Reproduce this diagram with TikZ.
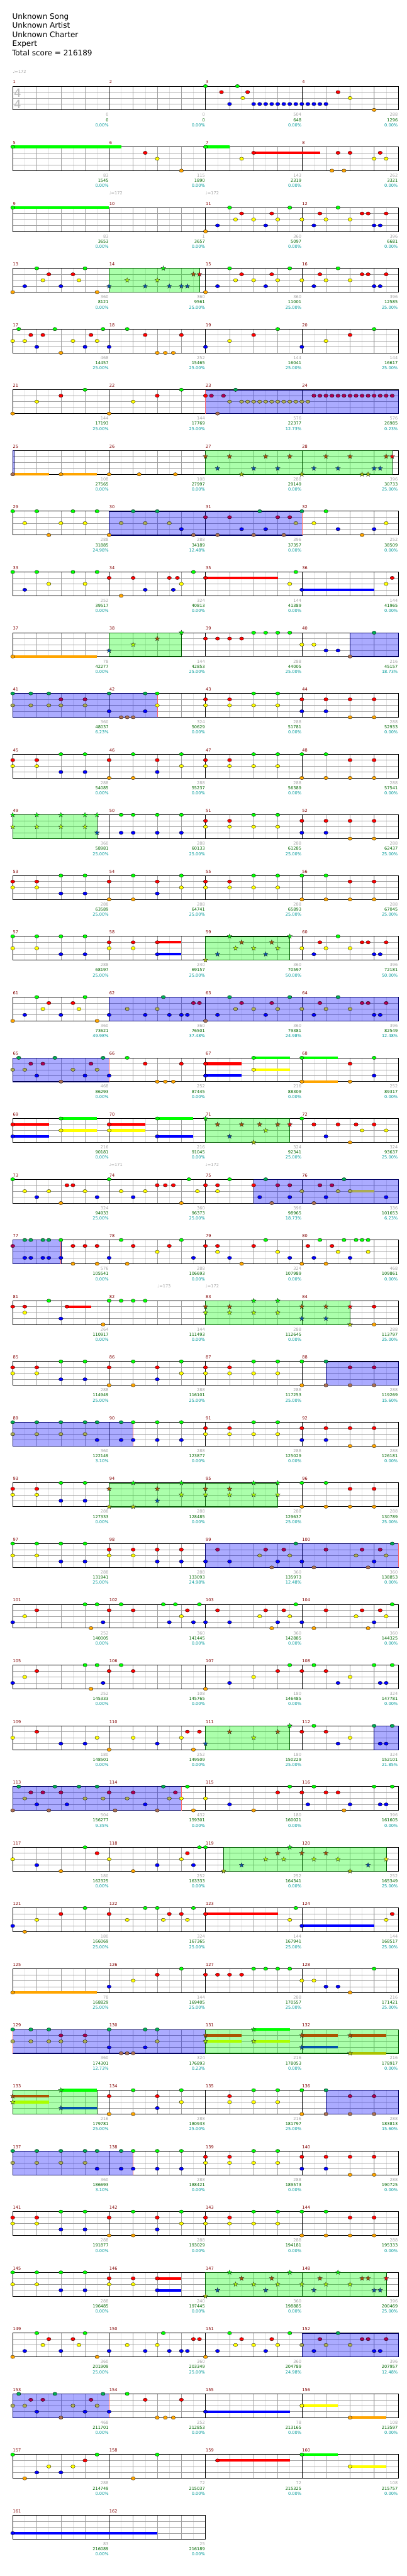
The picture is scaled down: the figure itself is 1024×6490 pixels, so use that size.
\documentclass[tikz,border=0pt]{standalone}
\usepackage{fontspec}
\setmainfont{DejaVu Sans}

% lane colours: 0 green, 1 red, 2 yellow, 3 blue, 4 orange
\definecolor{c0}{RGB}{0,255,0}
\definecolor{c1}{RGB}{255,0,0}
\definecolor{c2}{RGB}{255,255,0}
\definecolor{c3}{RGB}{0,0,255}
\definecolor{c4}{RGB}{255,165,0}
% gems under overdrive (tinted blue) and star gems (tinted green)
\colorlet{od0}{c0!67!c3}
\colorlet{od1}{c1!67!c3}
\colorlet{od2}{c2!67!c3}
\colorlet{od3}{c3}
\colorlet{od4}{c4!67!c3}
\colorlet{sp0}{c0}
\colorlet{sp1}{c1!67!c0}
\colorlet{sp2}{c2!67!c0}
\colorlet{sp3}{c3!67!c0}
\colorlet{sp4}{c4!67!c0}
\definecolor{gridmid}{RGB}{160,160,160}
\definecolor{gridlight}{RGB}{226,226,226}
\definecolor{barred}{RGB}{128,0,0}
\definecolor{ptsgray}{RGB}{165,165,165}
\definecolor{totgreen}{RGB}{0,102,0}
\definecolor{pctteal}{RGB}{0,153,153}

\newcommand\chartfont{\fontsize{10.5}{12}\selectfont}

\tikzset{
  chartrow/.style={shift={(32pt,{-(217+153*#1)*1pt})}, x=30.344pt, y=-15pt},
  eighthline/.style={draw=gridlight, line width=0.7pt},
  beatline/.style={draw=gridmid, line width=0.9pt},
  laneline/.style={draw=gridmid, line width=1pt},
  barline/.style={draw=black, line width=0.8pt},
  frameline/.style={draw=black, line width=1.4pt},
  gemline/.style={draw=black, line width=0.5pt},
  odfill/.style={fill=blue, fill opacity=0.33, draw=blue!40!black, line width=0.8pt},
  spfill/.style={fill=green, fill opacity=0.33, draw=green!35!black, line width=0.8pt},
  odmarkline/.style={draw=red!60, line width=1pt},
  measnum/.style={anchor=base west, inner sep=0pt, xshift=0.6pt, text=barred, font=\chartfont},
  ptsnum/.style={anchor=base east, inner sep=0pt, xshift=-1pt, text=ptsgray, font=\chartfont},
  totnum/.style={anchor=base east, inner sep=0pt, xshift=-1pt, text=totgreen, font=\chartfont},
  pctnum/.style={anchor=base east, inner sep=0pt, xshift=-1pt, text=pctteal, font=\chartfont},
  tempo/.style={anchor=west, inner sep=0pt, text=ptsgray, font=\chartfont},
  timesig/.style={inner sep=0pt, text=gray!55, font=\fontsize{29}{29}\selectfont},
  titleline/.style={anchor=base west, inner sep=0pt, font=\fontsize{19}{23}\selectfont},
  gemstar/.pic={\filldraw[fill=#1, draw=black!85, line width=0.5pt]
    (90:6.3pt) -- (126:2.6pt) -- (162:6.3pt) -- (198:2.6pt) -- (234:6.3pt) -- (270:2.6pt)
    -- (306:6.3pt) -- (342:2.6pt) -- (18:6.3pt) -- (54:2.6pt) -- cycle;}
}

% staff of one row: grid, frame and measure numbers
\newcommand\staff[2]{% #1 first measure, #2 measures in the row
  \pgfmathtruncatemacro\ncol{8*#2}
  \pgfmathtruncatemacro\neighth{8*#2-1}
  \pgfmathtruncatemacro\nbeat{4*#2-1}
  \pgfmathtruncatemacro\nbar{#2-1}
  \foreach \i in {1,...,\neighth} \draw[eighthline] (\i,0) -- (\i,4);
  \foreach \i in {1,...,\nbeat} \draw[beatline] (2*\i,0) -- (2*\i,4);
  \foreach \lane in {1,2,3} \draw[laneline] (0,\lane) -- (\ncol,\lane);
  \foreach \i in {1,...,\nbar} \draw[barline] (8*\i,0) -- (8*\i,4);
  \draw[frameline] (0,0) rectangle (\ncol,4);
  \foreach \m in {1,...,#2} {
    \pgfmathtruncatemacro\mnum{#1+\m-1}
    \node[measnum] (bar\mnum) at (8*\m-8,-0.43) {\mnum};
  }
}
\newcommand\odzone[2]{\filldraw[odfill] (#1,0) rectangle (#2,4);}
\newcommand\spzone[2]{\filldraw[spfill] (#1,0) rectangle (#2,4);}
\newcommand\odmark[1]{\draw[odmarkline] (#1,0) -- (#1,4);}
\newcommand\tail[4]{\fill[#4] (#1,#3-0.22) rectangle (#2,#3+0.22);}
\newcommand\gems[1]{\foreach \pos/\lane in {#1}
  {\filldraw[gemline, fill=c\lane] (\pos,\lane) ellipse [x radius=5.3pt, y radius=4.2pt];}}
\newcommand\odgems[1]{\foreach \pos/\lane in {#1}
  {\filldraw[gemline, fill=od\lane] (\pos,\lane) ellipse [x radius=5.3pt, y radius=4.2pt];}}
\newcommand\stars[1]{\foreach \pos/\lane in {#1} {\pic at (\pos,\lane) {gemstar=sp\lane};}}
\newcommand\pstars[1]{\foreach \pos/\lane in {#1} {\pic at (\pos,\lane) {gemstar=c\lane};}}
\newcommand\scores[1]{\foreach \ptsv/\totv/\pctv [count=\m] in {#1} {
    \node[ptsnum] (pts\m) at (8*\m,5.07) {\ptsv};
    \node[totnum] (tot\m) at (8*\m,5.93) {\totv};
    \node[pctnum] (pct\m) at (8*\m,6.8) {\pctv\%};
  }}
% riffs that come back several times
\newcommand\riffA{\gems{0/1, 2/1, 8/1, 12/1, 16/1, 18/1, 28/1, 30/1, 0/2, 2/2, 14/2, 16/2, 18/2,
  20/2, 22/2, 4/0, 6/0, 10/0, 14/0, 20/0, 22/0, 24/0, 26/0, 4/3, 6/3, 12/3, 8/4, 10/4, 24/4,
  26/4, 28/4, 30/4}}
\newcommand\riffB{\odzone{0}{10} \odmark{10}
  \odgems{0/0, 2/0, 4/0, 6/0, 7/0, 9/0, 0/2, 2/2, 4/2, 6/2, 7/3, 9/3}
  \gems{10/0, 10/3, 12/0, 14/0, 20/0, 22/0, 12/3, 14/3, 24/3, 26/3, 16/1, 18/1, 24/1, 26/1,
  28/1, 30/1, 16/2, 18/2, 20/2, 22/2, 28/4, 30/4}}

\begin{document}
\begin{tikzpicture}
\useasboundingbox (0,0) rectangle (1024pt,-6490pt);

% ===== HEADER =====
\node[titleline] (song) at (31pt,-48pt) {Unknown Song};
\node[titleline] (artist) at (31pt,-71pt) {Unknown Artist};
\node[titleline] (charter) at (31pt,-94pt) {Unknown Charter};
\node[titleline] (level) at (31pt,-117pt) {Expert};
\node[titleline] (total) at (30pt,-141pt) {Total score = 216189};

% ===== measures 1-4 =====
\begin{scope}[chartrow=0]
  \staff{1}{4}
  \node[tempo] (tempo1) at (0,-2.47) {♩=172};
  \node[timesig] (tsup) at (0.41,1.1) {4};
  \node[timesig] (tsdown) at (0.41,3.1) {4};
  \gems{16/0, 18.65/0, 17.33/1, 19.5/1, 27/1, 19.1/2, 28/2, 18/3, 20/3, 20.5/3, 21/3, 21.5/3,
    22/3, 22.5/3, 23/3, 23.5/3, 24/3, 24.5/3, 25/3, 25.5/3, 26/3, 30/4}
  \scores{0/0/0.00, 0/0/0.00, 504/648/0.00, 288/1296/0.00}
\end{scope}

% ===== measures 5-8 =====
\begin{scope}[chartrow=1]
  \staff{5}{4}
  \tail{0}{9}{0}{c0} \tail{16}{18}{0}{c0} \tail{20}{25.5}{1}{c1}
  \gems{0/0, 16/0, 11/1, 20/1, 27/1, 28/1, 30.5/1, 12/2, 19/2, 30/2, 31/2, 14/4, 26.5/4, 27.5/4}
  \scores{83/1545/0.00, 115/1890/0.00, 143/2319/0.00, 262/3321/0.00}
\end{scope}

% ===== measures 9-12 =====
\begin{scope}[chartrow=2]
  \staff{9}{4}
  \node[tempo] (tempo2) at (8,-2.47) {♩=172};
  \node[tempo] (tempo3) at (16,-2.47) {♩=172};
  \tail{0}{8}{0}{c0}
  \gems{0/0, 18/0, 23/0, 27/0, 19/1, 21.5/1, 25.5/1, 29/1, 29.5/1, 31/1, 18.5/2, 20/2, 22/2,
    24/2, 26/2, 28/2, 17/3, 21/3, 25/3, 30/3, 30.5/3, 16/4}
  \scores{83/3653/0.00, 1/3657/0.00, 360/5097/0.00, 396/6681/0.00}
\end{scope}

% ===== measures 13-16 =====
\begin{scope}[chartrow=3]
  \staff{13}{4}
  \spzone{8}{15.5}
  \gems{2/0, 6/0, 3/1, 5/1, 2.5/2, 5.5/2, 1/3, 4/3, 0/4, 7/4, 16/4, 17/3, 18/0, 18.5/2, 19/1,
    20/2, 21/3, 21.5/1, 22/2, 23/0, 24/2, 25/3, 25.5/1, 26/2, 27/0, 28/2, 29/1, 29.5/1, 30/3,
    30.5/3, 31/1}
  \stars{8/3, 9.5/2, 11/3, 12/2, 12.5/0, 13/3, 14/3, 14.5/3, 15/1}
  \pstars{15.5/1}
  \scores{360/8121/0.00, 360/9561/25.00, 360/11001/25.00, 396/12585/25.00}
\end{scope}

% ===== measures 17-20 =====
\begin{scope}[chartrow=4]
  \staff{17}{4}
  \gems{0.5/0, 3.5/0, 7.5/0, 9.5/0, 22/0, 30/0, 1.5/1, 2.5/1, 6.5/1, 11/1, 14/1, 20/1, 28/1,
    0/2, 1/2, 5/2, 7/2, 18/2, 26/2, 2/3, 6/3, 8/3, 16/3, 24/3, 4/4, 12/4, 12.67/4, 13.33/4}
  \scores{468/14457/25.00, 252/15465/25.00, 144/16041/25.00, 144/16617/25.00}
\end{scope}

% ===== measures 21-24 =====
\begin{scope}[chartrow=5]
  \staff{21}{4}
  \odzone{16}{32} \odmark{16}
  \gems{0/4, 8/4, 2/2, 10/2, 4/1, 12/1, 6/0, 14/0, 16/1}
  \odgems{16.5/1, 17.5/1, 18.5/0, 17/4, 18/2, 19/2, 19.5/2, 20/2, 20.5/2, 21/2, 21.5/2, 22/2,
    22.5/2, 23/2, 23.5/2, 24/2, 24.5/2, 25/1, 25.5/1, 26/1, 26.5/1, 27/1, 27.5/1, 28/1, 28.5/1,
    29/1, 29.5/1, 30/1, 30.5/1, 31/1, 31.5/1}
  \scores{144/17193/25.00, 144/17769/25.00, 576/22377/12.73, 576/26985/0.23}
\end{scope}

% ===== measures 25-28 =====
\begin{scope}[chartrow=6]
  \staff{25}{4}
  \odzone{0}{0.12}
  \spzone{16}{31.5}
  \tail{0}{3}{4}{c4} \tail{4}{7}{4}{c4}
  \odgems{0/4}
  \gems{4/4, 8/4, 10.5/4, 13.5/4}
  \stars{16/1, 18/1, 21/1, 23/1, 26/1, 28/1, 31/1, 17/3, 20/3, 22/3, 25/3, 27/3, 30/3, 30.5/3,
    19/4, 24/4, 29/4, 29.5/4}
  \pstars{31.5/1}
  \scores{108/27565/0.00, 108/27997/0.00, 288/29149/0.00, 396/30733/25.00}
\end{scope}

% ===== measures 29-32 =====
\begin{scope}[chartrow=7]
  \staff{29}{4}
  \odzone{8}{24} \odmark{24}
  \gems{0/0, 2/0, 5/0, 7/0, 1/2, 4/2, 6/2, 3/4, 8/4, 26/0, 25/2, 31/2, 27/3, 30/3, 29/4}
  \odgems{10/0, 12/0, 9/2, 11/2, 13/2, 14/3, 15/4, 17/4, 20/4, 22.5/4, 16/1, 18/1, 22/1, 23/1,
    19/3, 21/3, 20.5/0, 23.5/2, 24/0}
  \scores{288/31885/24.98, 288/34189/12.48, 396/37357/0.00, 252/38509/0.00}
\end{scope}

% ===== measures 33-36 =====
\begin{scope}[chartrow=8]
  \staff{33}{4}
  \tail{16}{22}{1}{c1} \tail{24}{30}{3}{c3}
  \gems{0/0, 2/0, 5/0, 7/0, 15/0, 23.5/0, 8/1, 10/1, 13/1, 13.67/1, 16/1, 31.5/1, 3/2, 6/2,
    14/2, 23/2, 31/2, 1/3, 11/3, 13.33/3, 24/3, 9/4}
  \scores{252/39517/0.00, 324/40813/0.00, 144/41389/0.00, 144/41965/0.00}
\end{scope}

% ===== measures 37-40 =====
\begin{scope}[chartrow=9]
  \staff{37}{4}
  \spzone{8}{14} \odzone{28}{32}
  \tail{0}{7}{4}{c4}
  \gems{0/4, 16/1, 17/1, 18/1, 19/1, 20/0, 21/0, 22/0, 23/0, 24/2, 25/2, 26/3, 27/3}
  \stars{8/3, 10/2, 12/1, 14/0}
  \odgems{28/4, 30/0}
  \scores{78/42277/0.00, 144/42853/25.00, 288/44005/25.00, 216/45157/18.73}
\end{scope}

% ===== measures 41-44 =====
\begin{scope}[chartrow=10]
  \staff{41}{4}
  \odzone{0}{12} \odmark{12}
  \odgems{0/0, 1.5/0, 3/0, 8/0, 11/0, 4/1, 6/1, 0/2, 1.5/2, 3/2, 4/2, 6/2, 8/3, 11/3, 9/4,
    9.5/4, 10/4}
  \gems{12/0, 12/2, 16/1, 18/1, 24/1, 26/1, 28/1, 30/1, 16/2, 18/2, 20/2, 22/2, 20/0, 22/0,
    24/3, 26/3, 28/4, 30/4}
  \scores{360/48037/6.23, 324/50629/0.00, 288/51781/0.00, 288/52933/0.00}
\end{scope}

% ===== measures 45-48 =====
\begin{scope}[chartrow=11]
  \staff{45}{4}
  \riffA
  \scores{288/54085/0.00, 288/55237/0.00, 288/56389/0.00, 288/57541/0.00}
\end{scope}

% ===== measures 49-52 =====
\begin{scope}[chartrow=12]
  \staff{49}{4}
  \spzone{0}{7}
  \stars{0/0, 2/0, 4/0, 6/0, 7/0, 0/2, 2/2, 4/2, 6/2, 7/3}
  \gems{9/0, 10/0, 12/0, 14/0, 20/0, 22/0, 9/3, 10/3, 12/3, 14/3, 24/3, 26/3, 16/1, 18/1,
    24/1, 26/1, 28/1, 30/1, 16/2, 18/2, 20/2, 22/2, 28/4, 30/4}
  \scores{360/58981/25.00, 288/60133/25.00, 288/61285/25.00, 288/62437/25.00}
\end{scope}

% ===== measures 53-56 =====
\begin{scope}[chartrow=13]
  \staff{53}{4}
  \riffA
  \scores{288/63589/25.00, 288/64741/25.00, 288/65893/25.00, 288/67045/25.00}
\end{scope}

% ===== measures 57-60 =====
\begin{scope}[chartrow=14]
  \staff{57}{4}
  \spzone{16}{23}
  \tail{12}{14}{1}{c1} \tail{12}{14}{3}{c3}
  \gems{0/0, 2/0, 4/0, 6/0, 0/2, 2/2, 8/2, 10/2, 4/3, 6/3, 12/3, 8/1, 10/1, 12/1, 24/2, 25/3,
    25.5/1, 26/2, 27/0, 28/2, 29/1, 29.5/1, 30/3, 30.5/3, 31/1}
  \stars{16/4, 17/3, 18/0, 18.5/2, 19/1, 20/2, 21/3, 21.5/1, 22/2, 23/0}
  \scores{288/68197/25.00, 240/69157/25.00, 360/70597/50.00, 396/72181/50.00}
\end{scope}

% ===== measures 61-64 =====
\begin{scope}[chartrow=15]
  \staff{61}{4}
  \odzone{8}{32}
  \gems{0/4, 7/4, 1/3, 4/3, 2/0, 6/0, 2.5/2, 5.5/2, 3/1, 5/1}
  \odgems{8/3, 11/3, 13/3, 14/3, 14.5/3, 9.5/2, 12/2, 12.5/0, 15/1, 15.5/1, 16/4, 17/3, 18/0,
    18.5/2, 19/1, 20/2, 21/3, 21.5/1, 22/2, 23/0, 24/2, 25/3, 25.5/1, 26/2, 27/0, 28/2, 29/1,
    29.5/1, 30/3, 30.5/3, 31/1}
  \scores{360/73621/49.98, 360/76501/37.48, 360/79381/24.98, 396/82549/12.48}
\end{scope}

% ===== measures 65-68 =====
\begin{scope}[chartrow=16]
  \staff{65}{4}
  \odzone{0}{8} \odmark{8}
  \odgems{0.5/0, 3.5/0, 7.5/0, 1.5/1, 2.5/1, 6.5/1, 0/2, 1/2, 5/2, 7/2, 2/3, 6/3, 4/4}
  \tail{16}{19}{1}{c1} \tail{16}{19}{3}{c3} \tail{20}{23}{0}{c0} \tail{20}{23}{2}{c2}
  \tail{24}{27}{0}{c0} \tail{24}{27}{4}{c4}
  \gems{8/3, 9.5/0, 11/1, 14/1, 12/4, 12.67/4, 13.33/4, 16/1, 16/3, 20/0, 20/2, 24/0, 24/4,
    28/1, 28/4, 30/0, 30/3}
  \scores{468/86293/0.00, 252/87445/0.00, 216/88309/0.00, 252/89317/0.00}
\end{scope}

% ===== measures 69-72 =====
\begin{scope}[chartrow=17]
  \staff{69}{4}
  \spzone{16}{23}
  \tail{0}{3}{1}{c1} \tail{0}{3}{3}{c3} \tail{4}{7}{0}{c0} \tail{4}{7}{2}{c2}
  \tail{8}{11}{1}{c1} \tail{8}{11}{2}{c2} \tail{12}{15}{0}{c0} \tail{12}{15}{3}{c3}
  \gems{0/1, 0/3, 4/0, 4/2, 8/1, 8/2, 12/0, 12/3, 24/0, 25/1, 27/1, 28.5/1, 30/1, 26/3, 28/4,
    29/2, 31/2}
  \stars{16/0, 17/1, 19/1, 20.5/1, 22/1, 18/3, 20/4, 21/2}
  \pstars{23/1}
  \scores{216/90181/0.00, 216/91045/0.00, 324/92341/25.00, 324/93637/25.00}
\end{scope}

% ===== measures 73-76 =====
\begin{scope}[chartrow=18]
  \staff{73}{4}
  \node[tempo] (tempo4) at (8,-2.47) {♩=171};
  \node[tempo] (tempo5) at (16,-2.47) {♩=172};
  \odzone{20}{32}
  \tail{28}{30}{2}{od2}
  \gems{0/0, 8/0, 14.63/0, 18/0, 1/2, 3/2, 6/2, 9/2, 11/2, 15.33/2, 17/2, 2/3, 7/3, 10/3,
    4.5/1, 5/1, 12/1, 12.67/1, 13.33/1, 16/1, 17/1, 4/4, 14/4, 20/1}
  \odgems{20.5/3, 23/3, 26/3, 31/3, 21/0, 27.5/0, 22/1, 23/1, 25.5/1, 26.5/1, 21.5/4, 25/4,
    24/2, 27/2, 28/2}
  \scores{324/94933/25.00, 360/96373/25.00, 396/98965/18.73, 336/101653/6.23}
\end{scope}

% ===== measures 77-80 =====
\begin{scope}[chartrow=19]
  \staff{77}{4}
  \odzone{0}{4} \odmark{4}
  \odgems{0/1, 1/0, 1.5/0, 2.5/0, 3/0, 1/3, 1.5/3, 2.5/3, 3/3, 4/3}
  \gems{4/0, 5/1, 6/1, 7/1, 10/1, 13/1, 16/1, 17/1, 20/1, 24.5/1, 26.5/1, 5/4, 7/4, 9.5/4,
    19/4, 24/4, 26/4, 9/0, 14/0, 21/0, 25.5/0, 27.5/0, 28.5/0, 29/0, 29.5/0, 12/2, 17/2, 22/2,
    27/2, 29.5/2, 8/3, 15/3, 18/3, 23/3, 25/3, 28/3}
  \scores{576/105541/0.00, 288/106693/0.00, 324/107989/0.00, 468/109861/0.00}
\end{scope}

% ===== measures 81-84 =====
\begin{scope}[chartrow=20]
  \staff{81}{4}
  \node[tempo] (tempo6) at (12,-2.47) {♩=173};
  \node[tempo] (tempo7) at (16,-2.47) {♩=172};
  \spzone{16}{28}
  \tail{4.5}{6.5}{1}{c1}
  \gems{0/1, 1/1, 4.5/1, 1/2, 3/0, 4/3, 7.5/4, 8/0, 9/0, 10/0, 11/0, 30/1, 30/4}
  \stars{16/1, 18/1, 24/1, 26/1, 16/2, 18/2, 20/2, 22/2, 20/0, 22/0, 24/3, 26/3, 28/4}
  \pstars{28/1}
  \scores{264/110917/0.00, 144/111493/0.00, 288/112645/0.00, 288/113797/25.00}
\end{scope}

% ===== measures 85-88 =====
\begin{scope}[chartrow=21]
  \staff{85}{4}
  \odzone{26}{32}
  \gems{0/1, 2/1, 8/1, 12/1, 16/1, 18/1, 0/2, 2/2, 14/2, 16/2, 18/2, 20/2, 22/2, 4/0, 6/0,
    10/0, 14/0, 20/0, 22/0, 24/0, 4/3, 6/3, 12/3, 8/4, 10/4, 24/4}
  \odgems{26/0, 26/4, 28/1, 30/1, 28/4, 30/4}
  \scores{288/114949/25.00, 288/116101/25.00, 288/117253/25.00, 288/119269/15.60}
\end{scope}

% ===== measures 89-92 =====
\begin{scope}[chartrow=22]
  \staff{89}{4}
  \riffB
  \scores{360/122149/3.10, 288/123877/0.00, 288/125029/0.00, 288/126181/0.00}
\end{scope}

% ===== measures 93-96 =====
\begin{scope}[chartrow=23]
  \staff{93}{4}
  \spzone{8}{22}
  \gems{0/1, 2/1, 0/2, 2/2, 4/0, 6/0, 4/3, 6/3, 24/0, 26/0, 28/1, 30/1, 24/4, 26/4, 28/4, 30/4}
  \stars{8/1, 12/1, 16/1, 18/1, 8/4, 10/4, 10/0, 14/0, 20/0, 22/0, 12/3, 14/2, 16/2, 18/2,
    20/2, 22/2}
  \scores{288/127333/0.00, 288/128485/0.00, 288/129637/25.00, 288/130789/25.00}
\end{scope}

% ===== measures 97-100 =====
\begin{scope}[chartrow=24]
  \staff{97}{4}
  \odzone{16}{32} \odmark{32}
  \gems{0/0, 2/0, 4/0, 6/0, 0/2, 2/2, 8/2, 10/2, 4/3, 6/3, 12/3, 14/3, 8/1, 10/1, 12/1, 14/1,
    16/3}
  \odgems{18/3, 22/3, 24/3, 30/3, 17/1, 21/1, 22.5/1, 26/1, 29/1, 30.5/1, 20.5/2, 23/2, 28.5/2,
    31/2, 23.5/0, 31.5/0, 21.5/4, 25/4, 29.5/4}
  \scores{288/131941/25.00, 288/133093/24.98, 360/135973/12.48, 360/138853/0.00}
\end{scope}

% ===== measures 101-104 =====
\begin{scope}[chartrow=25]
  \staff{101}{4}
  \gems{0/3, 7.5/3, 13/3, 15/3, 16/3, 18/3, 22/3, 24/3, 30/3, 1/2, 14/2, 20.5/2, 23/2, 28.5/2,
    31/2, 2/1, 8/1, 10/1, 14.5/1, 17/1, 21/1, 22.5/1, 26/1, 29/1, 30.5/1, 6/0, 7/0, 9/0,
    12.5/0, 13.5/0, 15.5/0, 23.5/0, 31.5/0, 6.5/4, 21.5/4, 25/4, 29.5/4}
  \scores{252/140005/0.00, 360/141445/0.00, 360/142885/0.00, 360/144325/0.00}
\end{scope}

% ===== measures 105-108 =====
\begin{scope}[chartrow=26]
  \staff{105}{4}
  \gems{0/3, 7.5/3, 18/3, 27/3, 30.5/3, 31/3, 1/2, 20/2, 28/2, 2/1, 8/1, 10/1, 22/1, 24/1,
    26/1, 6/0, 7/0, 9/0, 23/0, 25/0, 30/0, 31.5/0, 6.5/4, 16/4}
  \scores{252/145333/0.00, 108/145765/0.00, 180/146485/0.00, 324/147781/0.00}
\end{scope}

% ===== measures 109-112 =====
\begin{scope}[chartrow=27]
  \staff{109}{4}
  \spzone{16}{23} \odzone{30}{32}
  \gems{0/2, 7/2, 10/2, 14/2, 28/2, 2/1, 14.5/1, 15.5/1, 24/1, 26/1, 4/3, 6/3, 12/3, 27/3,
    8/4, 15/4, 25/0}
  \stars{16/3, 18/1, 22/1, 20/2, 23/0}
  \odgems{30/0, 31.5/0, 30.5/3, 31/3}
  \scores{180/148501/0.00, 252/149509/0.00, 180/150229/25.00, 324/152101/21.85}
\end{scope}

% ===== measures 113-116 =====
\begin{scope}[chartrow=28]
  \staff{113}{4}
  \odzone{0}{14} \odmark{14}
  \odgems{0.5/0, 3.5/0, 5.5/0, 7/0, 12.5/0, 1.5/1, 2.5/1, 4/1, 8/1, 10/1, 13.5/1, 1/2, 6/2,
    7.5/2, 9.5/2, 13/2, 2/3, 4.5/3, 11/3, 0/4, 3/4, 8.5/4, 12/4}
  \gems{14/2, 14.5/0, 15/4, 20/4, 27.5/4, 16/2, 18/3, 24.5/3, 28/3, 30.5/3, 31/3, 22/1, 24/1,
    26/1, 27/1, 23/0, 25/0, 30/0, 31.5/0}
  \scores{504/156277/9.35, 432/159301/0.00, 180/160021/0.00, 396/161605/0.00}
\end{scope}

% ===== measures 117-120 =====
\begin{scope}[chartrow=29]
  \staff{117}{4}
  \spzone{17.5}{31}
  \gems{0/2, 8/2, 14/2, 2/3, 12/3, 15/3, 4/4, 10/4, 6/0, 15.5/0, 16/0, 7/1, 14.5/1}
  \stars{17.5/4, 28/4, 19/3, 29.5/3, 21/2, 22.5/2, 25/2, 27/2, 22/1, 24/1, 26/1, 23/0}
  \pstars{31/2}
  \scores{180/162325/0.00, 252/163333/0.00, 252/164341/0.00, 252/165349/25.00}
\end{scope}

% ===== measures 121-124 =====
\begin{scope}[chartrow=30]
  \staff{121}{4}
  \tail{16}{22}{1}{c1} \tail{24}{30}{3}{c3}
  \gems{0/3, 1/4, 2/2, 9.5/2, 12.5/2, 14.5/2, 23/2, 31/2, 4/1, 8/1, 13/1, 14/1, 16/1, 31.5/1,
    6/0, 11/0, 12/0, 15/0, 23.5/0, 24/3}
  \scores{180/166069/25.00, 324/167365/25.00, 144/167941/25.00, 144/168517/25.00}
\end{scope}

% ===== measures 125-128 =====
\begin{scope}[chartrow=31]
  \staff{125}{4}
  \tail{0}{7}{4}{c4}
  \gems{0/4, 8/3, 10/2, 12/1, 14/0, 16/1, 17/1, 18/1, 19/1, 20/0, 21/0, 22/0, 23/0, 24/2, 25/2,
    26/3, 27/3, 28/4, 30/0}
  \scores{78/168829/25.00, 144/169405/25.00, 288/170557/25.00, 216/171421/25.00}
\end{scope}

% ===== measures 129-132 =====
\begin{scope}[chartrow=32]
  \staff{129}{4}
  \odzone{0}{16} \odmark{0}
  \spzone{16}{32}
  \odgems{0/0, 1.5/0, 3/0, 8/0, 11/0, 12/0, 4/1, 6/1, 0/2, 1.5/2, 3/2, 4/2, 6/2, 12/2, 8/3,
    11/3, 9/4, 9.5/4, 10/4}
  \tail{16}{19}{1}{sp1} \tail{16}{19}{2}{sp2} \tail{20}{23}{0}{sp0} \tail{20}{23}{2}{sp2}
  \tail{24}{27}{1}{sp1} \tail{24}{27}{3}{sp3} \tail{28}{31}{1}{sp1} \tail{28}{31}{4}{sp4}
  \stars{16/1, 16/2, 20/0, 20/2, 24/1, 24/3, 28/1, 28/4}
  \scores{360/174301/12.73, 324/176893/0.23, 216/178053/0.00, 216/178917/0.00}
\end{scope}

% ===== measures 133-136 =====
\begin{scope}[chartrow=33]
  \staff{133}{4}
  \spzone{0}{7} \odzone{26}{32}
  \tail{0}{3}{1}{sp1} \tail{0}{3}{2}{sp2} \tail{4}{7}{0}{sp0} \tail{4}{7}{3}{sp3}
  \stars{0/1, 0/2, 4/0, 4/3}
  \gems{8/1, 12/1, 18/1, 8/4, 10/4, 24/4, 10/0, 14/0, 20/0, 22/0, 24/0, 12/3, 14/2, 18/2,
    20/2, 22/2}
  \odgems{26/0, 26/4, 28/1, 30/1, 28/4, 30/4}
  \scores{216/179781/25.00, 288/180933/25.00, 216/181797/25.00, 288/183813/15.60}
\end{scope}

% ===== measures 137-140 =====
\begin{scope}[chartrow=34]
  \staff{137}{4}
  \riffB
  \scores{360/186693/3.10, 288/188421/0.00, 288/189573/0.00, 288/190725/0.00}
\end{scope}

% ===== measures 141-144 =====
\begin{scope}[chartrow=35]
  \staff{141}{4}
  \riffA
  \scores{288/191877/0.00, 288/193029/0.00, 288/194181/0.00, 288/195333/0.00}
\end{scope}

% ===== measures 145-148 =====
\begin{scope}[chartrow=36]
  \staff{145}{4}
  \spzone{16}{31}
  \tail{12}{14}{1}{c1} \tail{12}{14}{3}{c3}
  \gems{0/0, 2/0, 4/0, 6/0, 0/2, 2/2, 8/2, 10/2, 4/3, 6/3, 12/3, 8/1, 10/1, 12/1}
  \stars{16/4, 17/3, 21/3, 25/3, 30/3, 30.5/3, 18/0, 23/0, 27/0, 18.5/2, 20/2, 22/2, 24/2,
    26/2, 28/2, 19/1, 21.5/1, 25.5/1, 29/1, 29.5/1}
  \pstars{31/1}
  \scores{288/196485/0.00, 240/197445/0.00, 360/198885/0.00, 396/200469/25.00}
\end{scope}

% ===== measures 149-152 =====
\begin{scope}[chartrow=37]
  \staff{149}{4}
  \odzone{24}{32}
  \gems{0/4, 7/4, 1/3, 4/3, 2/0, 6/0, 2.5/2, 5.5/2, 3/1, 5/1, 8/3, 11/3, 13/3, 14/3, 14.5/3,
    9.5/2, 12/2, 12.5/0, 15/1, 15.5/1, 16/4, 17/3, 18/0, 18.5/2, 19/1, 20/2, 21/3, 21.5/1,
    22/2, 23/0}
  \odgems{24/2, 26/2, 28/2, 25/3, 30/3, 30.5/3, 25.5/1, 29/1, 29.5/1, 31/1, 27/0}
  \scores{360/201909/25.00, 360/203349/25.00, 360/204789/24.98, 396/207957/12.48}
\end{scope}

% ===== measures 153-156 =====
\begin{scope}[chartrow=38]
  \staff{153}{4}
  \odzone{0}{8} \odmark{8}
  \odgems{0.5/0, 3.5/0, 7.5/0, 1.5/1, 2.5/1, 6.5/1, 0/2, 1/2, 5/2, 7/2, 2/3, 6/3, 4/4}
  \tail{16}{23}{3}{c3} \tail{24}{27}{2}{c2} \tail{28}{31}{4}{c4}
  \gems{8/3, 9.5/0, 11/1, 14/1, 12/4, 12.67/4, 13.33/4, 16/3, 24/2, 28/4}
  \scores{468/211701/0.00, 252/212853/0.00, 78/213165/0.00, 108/213597/0.00}
\end{scope}

% ===== measures 157-160 =====
\begin{scope}[chartrow=39]
  \staff{157}{4}
  \tail{17}{23}{1}{c1} \tail{24}{27}{0}{c0} \tail{28}{31}{2}{c2}
  \gems{0/0, 7/0, 12/0, 6/1, 3/2, 5/2, 2/3, 4/3, 1/4, 10/4, 17/1, 24/0, 28/2}
  \scores{288/214749/0.00, 72/215037/0.00, 72/215325/0.00, 108/215757/0.00}
\end{scope}

% ===== measures 161-162 =====
\begin{scope}[chartrow=40]
  \staff{161}{2}
  \tail{0}{12}{3}{c3}
  \gems{0/3}
  \scores{83/216089/0.00, 25/216189/0.00}
\end{scope}

\end{tikzpicture}
\end{document}
